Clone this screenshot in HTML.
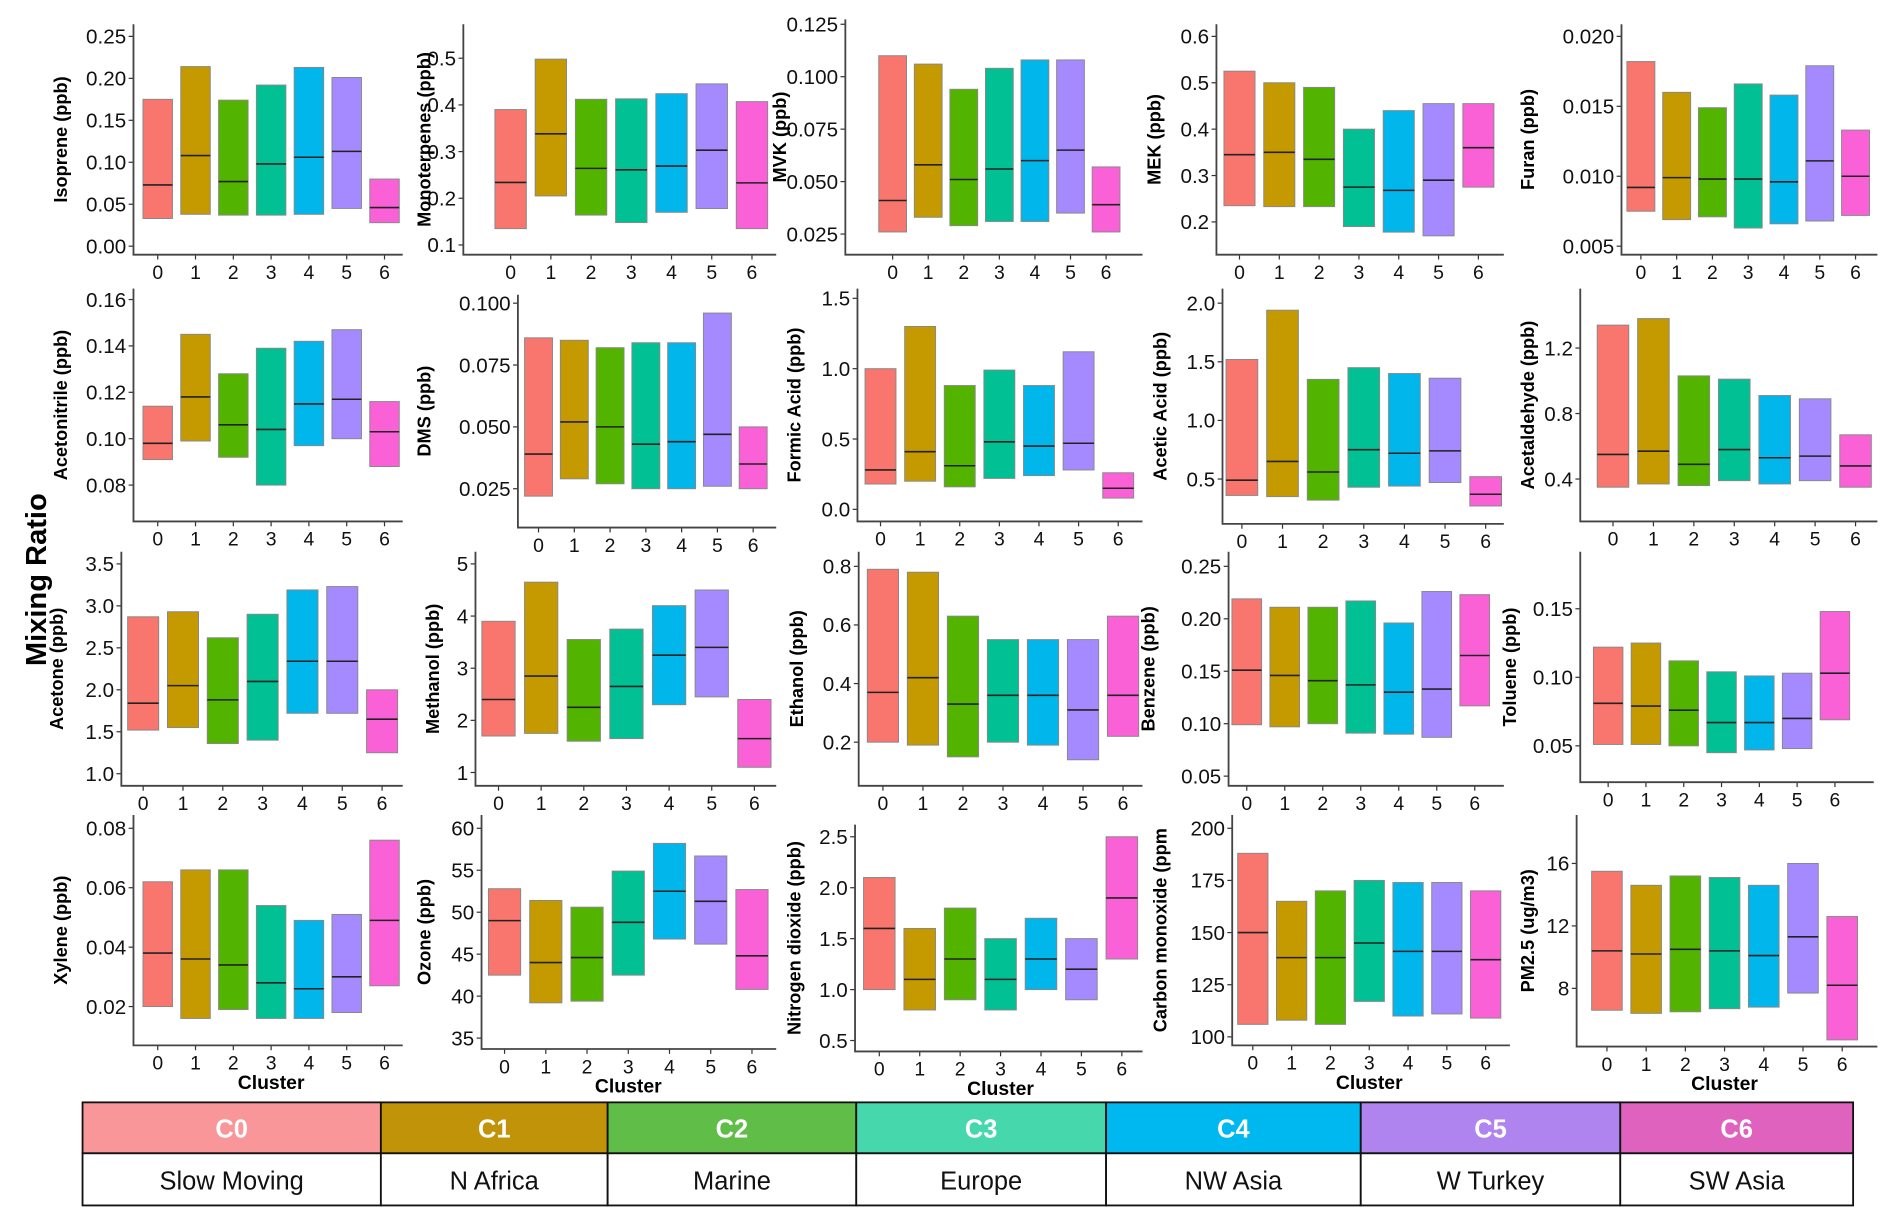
<!DOCTYPE html>
<html><head><meta charset="utf-8"><style>
html,body{margin:0;padding:0;background:#fff;}
svg{display:block;font-family:"Liberation Sans",sans-serif;}
</style></head><body>
<svg id="chart" width="1892" height="1220" viewBox="0 0 1560 1006" xmlns="http://www.w3.org/2000/svg"></svg>
<script>
const categories = ["0","1","2","3","4","5","6"];
const colors = ["#F8766D","#C49A00","#53B400","#00C094","#00B6EB","#A58AFF","#FB61D7"];
const panelTitles = ["Isoprene (ppb)","Monoterpenes (ppb)","MVK (ppb)","MEK (ppb)","Furan (ppb)",
"Acetonitrile (ppb)","DMS (ppb)","Formic Acid (ppb)","Acetic Acid (ppb)","Acetaldehyde (ppb)",
"Acetone (ppb)","Methanol (ppb)","Ethanol (ppb)","Benzene (ppb)","Toluene (ppb)",
"Xylene (ppb)","Ozone (ppb)","Nitrogen dioxide (ppb)","Carbon monoxide (ppm","PM2.5 (ug/m3)"];
const q1Values = [
[0.033,0.038,0.037,0.037,0.038,0.045,0.028],
[0.135,0.205,0.164,0.148,0.17,0.178,0.135],
[0.026,0.033,0.029,0.031,0.031,0.035,0.026],
[0.235,0.233,0.233,0.19,0.178,0.17,0.275],
[0.0075,0.0069,0.0071,0.0063,0.0066,0.0068,0.0072],
[0.091,0.099,0.092,0.080,0.097,0.100,0.088],
[0.022,0.029,0.027,0.025,0.025,0.026,0.025],
[0.18,0.2,0.16,0.22,0.24,0.28,0.08],
[0.36,0.35,0.32,0.43,0.44,0.47,0.27],
[0.35,0.37,0.36,0.39,0.37,0.39,0.35],
[1.52,1.55,1.36,1.40,1.72,1.72,1.25],
[1.7,1.75,1.6,1.65,2.3,2.45,1.1],
[0.20,0.19,0.15,0.20,0.19,0.14,0.22],
[0.099,0.097,0.100,0.091,0.090,0.087,0.117],
[0.051,0.051,0.050,0.045,0.047,0.048,0.069],
[0.020,0.016,0.019,0.016,0.016,0.018,0.027],
[42.5,39.2,39.4,42.5,46.8,46.2,40.8],
[1.0,0.8,0.9,0.8,1.0,0.9,1.3],
[106,108,106,117,110,111,109],
[6.6,6.4,6.5,6.7,6.8,7.7,4.7]];
const medianValues = [
[0.073,0.108,0.077,0.098,0.106,0.113,0.046],
[0.234,0.338,0.264,0.261,0.269,0.303,0.233],
[0.041,0.058,0.051,0.056,0.060,0.065,0.039],
[0.345,0.35,0.335,0.275,0.268,0.29,0.36],
[0.0092,0.0099,0.0098,0.0098,0.0096,0.0111,0.01],
[0.098,0.118,0.106,0.104,0.115,0.117,0.103],
[0.039,0.052,0.050,0.043,0.044,0.047,0.035],
[0.28,0.41,0.31,0.48,0.45,0.47,0.15],
[0.49,0.65,0.56,0.75,0.72,0.74,0.37],
[0.55,0.57,0.49,0.58,0.53,0.54,0.48],
[1.84,2.05,1.88,2.10,2.34,2.34,1.65],
[2.4,2.85,2.25,2.65,3.25,3.4,1.65],
[0.37,0.42,0.33,0.36,0.36,0.31,0.36],
[0.151,0.146,0.141,0.137,0.130,0.133,0.165],
[0.081,0.079,0.076,0.067,0.067,0.070,0.103],
[0.038,0.036,0.034,0.028,0.026,0.030,0.049],
[49,44,44.6,48.8,52.5,51.3,44.8],
[1.6,1.1,1.3,1.1,1.3,1.2,1.9],
[150,138,138,145,141,141,137],
[10.4,10.2,10.5,10.4,10.1,11.3,8.2]];
const q3Values = [
[0.175,0.214,0.174,0.192,0.213,0.201,0.080],
[0.39,0.498,0.412,0.413,0.424,0.445,0.407],
[0.11,0.106,0.094,0.104,0.108,0.108,0.057],
[0.525,0.5,0.49,0.40,0.44,0.455,0.455],
[0.0182,0.016,0.0149,0.0166,0.0158,0.0179,0.0133],
[0.114,0.145,0.128,0.139,0.142,0.147,0.116],
[0.086,0.085,0.082,0.084,0.084,0.096,0.050],
[1.0,1.3,0.88,0.99,0.88,1.12,0.26],
[1.52,1.94,1.35,1.45,1.40,1.36,0.52],
[1.34,1.38,1.03,1.01,0.91,0.89,0.67],
[2.87,2.93,2.62,2.90,3.19,3.23,2.0],
[3.9,4.65,3.55,3.75,4.2,4.5,2.4],
[0.79,0.78,0.63,0.55,0.55,0.55,0.63],
[0.219,0.211,0.211,0.217,0.196,0.226,0.223],
[0.122,0.125,0.112,0.104,0.101,0.103,0.148],
[0.062,0.066,0.066,0.054,0.049,0.051,0.076],
[52.8,51.4,50.6,54.9,58.2,56.7,52.7],
[2.1,1.6,1.8,1.5,1.7,1.5,2.5],
[188,165,170,175,174,174,170],
[15.5,14.6,15.2,15.1,14.6,16.0,12.6]];
const tickLabels = [
["0.00","0.05","0.10","0.15","0.20","0.25"],
["0.1","0.2","0.3","0.4","0.5"],
["0.025","0.050","0.075","0.100","0.125"],
["0.2","0.3","0.4","0.5","0.6"],
["0.005","0.010","0.015","0.020"],
["0.08","0.10","0.12","0.14","0.16"],
["0.025","0.050","0.075","0.100"],
["0.0","0.5","1.0","1.5"],
["0.5","1.0","1.5","2.0"],
["0.4","0.8","1.2"],
["1.0","1.5","2.0","2.5","3.0","3.5"],
["1","2","3","4","5"],
["0.2","0.4","0.6","0.8"],
["0.05","0.10","0.15","0.20","0.25"],
["0.05","0.10","0.15"],
["0.02","0.04","0.06","0.08"],
["35","40","45","50","55","60"],
["0.5","1.0","1.5","2.0","2.5"],
["100","125","150","175","200"],
["8","12","16"]];
const legendCodes = ["C0","C1","C2","C3","C4","C5","C6"];
const legendNames = ["Slow Moving","N Africa","Marine","Europe","NW Asia","W Turkey","SW Asia"];

// layout: axisX, rightX, topY, axisY, firstCatX, lastCatX, lowTickPx, highTickPx, titleX
const layout = [
[110,332,20,210,130,317,203,30,55],
[382,640,20,210,421,620,202,48,355],
[697,942,16,210,736,912,193,20,648],
[1003,1240,20,210,1022,1219,183,30,957],
[1337,1548,20,210,1353,1530,203,30,1265],
[110,332,238,430,130,317,400,247,55],
[427,640,243,435,444,621,403,250,355],
[707,942,238,430,726,922,420,246,660],
[1008,1240,238,432,1024,1225,395,250,962],
[1303,1548,238,430,1330,1530,395,287,1265],
[100,332,455,648,118,315,638,465,52],
[392,640,455,648,411,622,637,465,362],
[708,942,455,648,728,926,612,467,662],
[1013,1240,455,648,1028,1216,640,467,952],
[1303,1545,455,645,1326,1513,615,502,1250],
[110,332,672,862,130,317,830,683,55],
[397,640,672,865,416,620,856,683,355],
[705,942,680,867,725,925,858,690,660],
[1016,1245,672,862,1033,1225,855,683,962],
[1300,1548,672,863,1325,1519,815,712,1265]];

const svg = document.getElementById('chart');
const NS = "http://www.w3.org/2000/svg";
function mk(tag, attrs, parent){const e=document.createElementNS(NS,tag);for(const k in attrs)e.setAttribute(k,attrs[k]);(parent||svg).appendChild(e);return e;}

panelTitles.forEach((title,p)=>{
  const L = layout[p];
  const [ax,rx,ty,ay,c0,c6,lowPx,highPx,tx] = L;
  const ticks = tickLabels[p];
  const tLow = parseFloat(ticks[0]), tHigh = parseFloat(ticks[ticks.length-1]);
  const yScale = v => lowPx + (v - tLow) * (highPx - lowPx) / (tHigh - tLow);
  const xScale = i => c0 + i * (c6 - c0) / (categories.length - 1);
  const bw = (c6 - c0) / 6 * 0.78;
  const g = mk('g', {});
  
  
  categories.forEach((c,i)=>{
    const x = xScale(i);
    const yq3 = yScale(q3Values[p][i]), yq1 = yScale(q1Values[p][i]), ym = yScale(medianValues[p][i]);
    const r = mk('rect', {x:x-bw/2, y:yq3, width:bw, height:yq1-yq3, fill:colors[i], stroke:'#888', 'stroke-width':0.8}, g);
    
    
    const m = mk('line', {x1:x-bw/2, x2:x+bw/2, y1:ym, y2:ym, stroke:'#222', 'stroke-width':1.3}, g);
    
    
    mk('line', {x1:x, x2:x, y1:ay, y2:ay+4, stroke:'#333', 'stroke-width':1}, g);
    const t = mk('text', {x:x, y:ay+20, 'font-size':16, 'text-anchor':'middle', fill:'#111'}, g);
    t.textContent = c;
    
    
  });
  ticks.forEach(lbl=>{
    const y = yScale(parseFloat(lbl));
    mk('line', {x1:ax-4, x2:ax, y1:y, y2:y, stroke:'#333', 'stroke-width':1}, g);
    const t = mk('text', {x:ax-6, y:y+6, 'font-size':17, 'text-anchor':'end', fill:'#111'}, g);
    t.textContent = lbl;
    
    
  });
  const axl = mk('path', {d:`M${ax},${ty} L${ax},${ay} L${rx},${ay}`, fill:'none', stroke:'#444', 'stroke-width':1.5}, g);
  
  
  const cy = (ty + ay) / 2;
  const yt = mk('text', {x:tx, y:cy, 'font-size':15, 'font-weight':'bold', 'text-anchor':'middle', transform:`rotate(-90 ${tx} ${cy})`, fill:'#000'}, g);
  yt.textContent = title;
  
  
  if (p >= 15) {
    const xt = mk('text', {x:(c0+c6)/2, y:ay+36, 'font-size':16, 'font-weight':'bold', 'text-anchor':'middle', fill:'#000'}, g);
    xt.textContent = 'Cluster';
    
    
  }
});

const mr = mk('text', {x:38, y:478, 'font-size':24, 'font-weight':'bold', 'text-anchor':'middle', transform:'rotate(-90 38 478)', fill:'#000'});
mr.textContent = 'Mixing Ratio';



// legend table
const legendColors = ["#F8969A","#C09308","#5FBD48","#47D7AD","#00B8F0","#AF84EE","#E062BF"];
const edges = [68,314,501,706,912,1122,1336,1528];
const lg = mk('g', {});


legendCodes.forEach((code,i)=>{
  const x0 = edges[i], x1 = edges[i+1], cx=(x0+x1)/2;
  const h = mk('rect', {x:x0, y:909, width:x1-x0, height:42, fill:legendColors[i], stroke:'#111', 'stroke-width':1.5}, lg);
  
  
  const b = mk('rect', {x:x0, y:951, width:x1-x0, height:43, fill:'#fff', stroke:'#111', 'stroke-width':1.5}, lg);
  
  
  const t1 = mk('text', {x:cx, y:938, 'font-size':21, 'font-weight':'bold', 'text-anchor':'middle', fill:'#fff'}, lg);
  t1.textContent = code;
  
  
  const t2 = mk('text', {x:cx, y:981, 'font-size':21, 'text-anchor':'middle', fill:'#111'}, lg);
  t2.textContent = legendNames[i];
  
  
});
</script>
</body></html>
